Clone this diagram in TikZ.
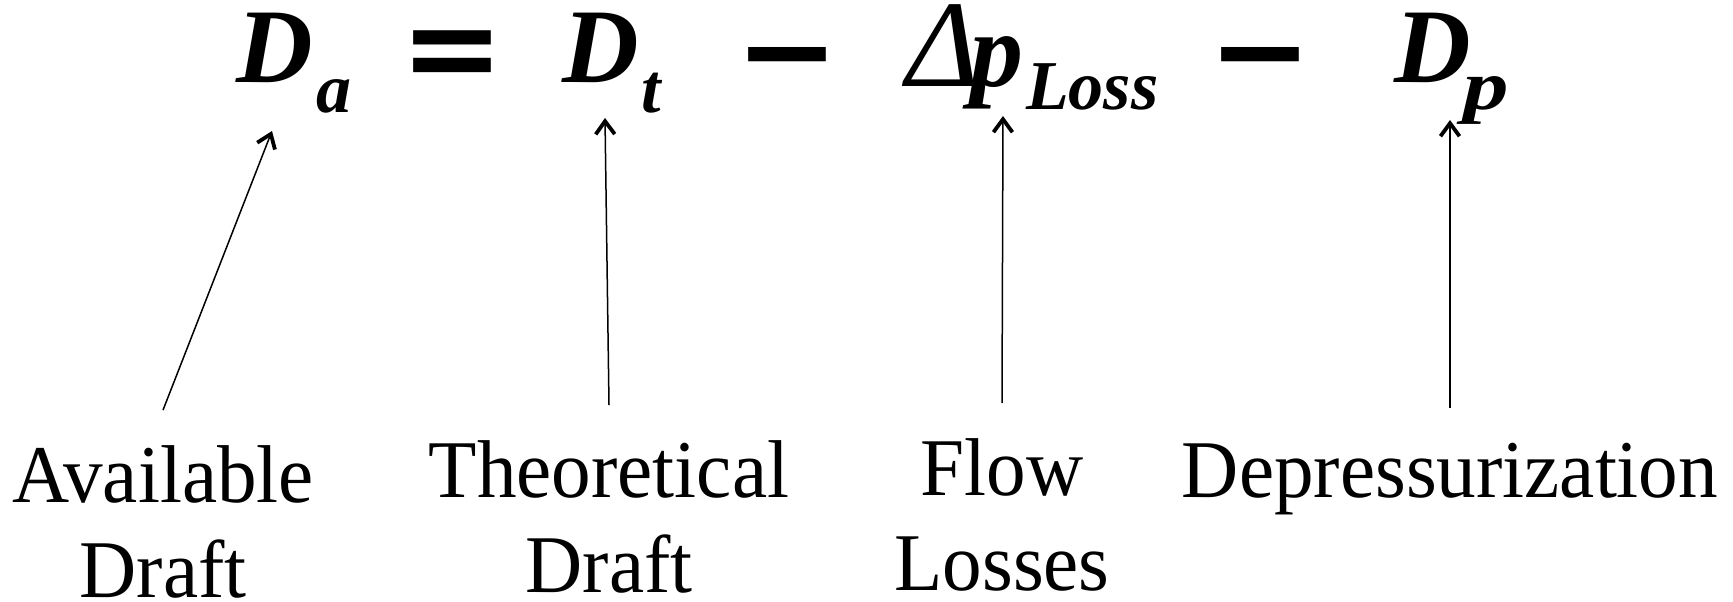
\documentclass[tikz,border=0pt]{standalone}
\usepackage{fontspec}
\setmainfont{Liberation Serif}
\newfontfamily\lblfont{Liberation Serif}[FakeStretch=0.965]
\newfontfamily\opfont{DejaVu Sans}
\usetikzlibrary{arrows.meta}
\begin{document}
\begin{tikzpicture}[x=1pt,y=-1pt,
  lbl/.style={font=\lblfont\fontsize{82}{95}\selectfont, align=center, inner sep=0pt, outer ysep=35pt, anchor=base},
  big/.style={font=\bfseries\itshape\fontsize{106}{106}\selectfont, inner sep=0pt, anchor=base west},
  sub/.style={font=\bfseries\itshape\fontsize{70}{70}\selectfont, inner sep=0pt, anchor=base west},
  op/.style={font=\opfont\bfseries\fontsize{124}{124}\selectfont, inner sep=0pt, anchor=base west},
  delta/.style={font=\itshape\fontsize{124}{124}\selectfont, inner sep=0pt, anchor=base west},
  arr/.style={line width=1.5pt, -{Straight Barb[length=13pt,width=19pt,line width=3.8pt]}}]
\useasboundingbox (0,0) rectangle (1733,602);
% equation
\node[big] (Da) at (236,83) {D};
\node[sub] (a) at (316,112) {a};
\node[op] (eq) at (400,90) {=};
\node[big] (Dt) at (562,83) {D};
\node[sub] (t) at (641,112) {t};
\node[op] (m1) at (735,93) {−};
\node[delta] (Dl) at (906,87) {Δ};
\node[big] (p) at (970,86) {p};
\node[sub] (Loss) at (1026,110) {Loss};
\node[op] (m2) at (1208,93) {−};
\node[big] (Dp) at (1394,83) {D};
\node[sub] (psub) at (1463,110) {\scalebox{1.3}[1]{p}};
% labels
\node[lbl] (avail) at (163,597) {Available\\Draft};
\node[lbl] (theo) at (609,592) {Theoretical\\Draft};
\node[lbl] (flow) at (1002,590) {Flow\\Losses};
\node[lbl] (dep) at (1450,497) {Depressurization};
% arrow tips
\coordinate (tA) at (272,131);
\coordinate (tT) at (605,118);
\coordinate (tF) at (1003,116);
\coordinate (tD) at (1450,120);
\draw[arr] (avail.north) -- (tA);
\draw[arr] (theo.north) -- (tT);
\draw[arr] (flow.north) -- (tF);
\draw[arr] (dep.north) -- (tD);
\end{tikzpicture}
\end{document}
